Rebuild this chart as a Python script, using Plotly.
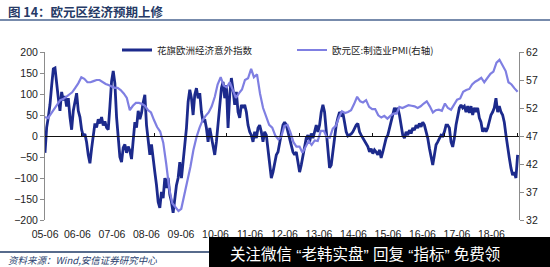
import plotly.graph_objects as go
import pandas as pd

TITLE = "图 14：欧元区经济预期上修"
SOURCE = "资料来源：Wind,安信证券研究中心"
WATERMARK = "关注微信 “老韩实盘” 回复 “指标” 免费领"
CITI_NAME = "花旗欧洲经济意外指数"
PMI_NAME = "欧元区:制造业PMI(右轴)"

X_TICK_LABELS = ["05-06", "06-06", "07-06", "08-06", "09-06", "10-06", "11-06",
                 "12-06", "13-06", "14-06", "15-06", "16-06", "17-06", "18-06"]
LEFT_TICKS = [-200, -150, -100, -50, 0, 50, 100, 150, 200]
RIGHT_TICKS = [32, 37, 42, 47, 52, 57, 62]
ZERO_TICK_DATES = ["2006-06-01", "2008-06-01", "2010-06-01", "2012-06-01",
                   "2014-06-01", "2016-06-01", "2018-06-01"]

# Citi Economic Surprise Index, Eurozone (read roughly every half month, 2005-06 .. 2018-06)
CITI = [
    -40, 20, 45, 75, 120, 160, 162, 120, 90, 60,
    105, 85, 95, 70, 90, 45, 15, 60, 80, 102,
    60, 45, 15, 0, 5, -15, -45, -65, -30, 0,
    30, 20, 40, 30, 45, 25, 35, 20, 15, 70,
    130, 155, 125, 45, -10, -50, -62, -28, -20, -40,
    -25, -35, -55, 0,
    33, 20, 60, 40, 55, 80, 98, 26, -14, -45,
    -20, -62, -86, -117, -157, -171, -133, -148, -100, -124,
    -100, -140, -157, -183, -150, -117, -100, -62, -100, -52,
    -21, 19, 81, 110, 90, 50, 98, 114, 90, 102,
    57, 33, 40, 19, -14, 19, -5, -29, -45, -14,
    26, 57, 114, 129, 90, 121, 19, 98, 138, 110,
    74, 105, 57, 43, 74, 67, 74, 57, 26, 10,
    2, -14, 10, -5, 19, 26, 10, -14, 10, 2,
    -29, -69, -100, -86, -69, -45, -38, -14, 10, 26,
    33, 26, 10, -5, -21, -38, -45, -38, -62, -86,
    -69, -45, -21, -5, 2, -14, 6, -5, 10, 26,
    10, 26, 57, 74, 57, 10, -38, -76, -69, -38,
    -5, 26, 43, 57, 50, 55, 33, 10, 0, 2,
    5, 10, 19, 26, 30, 10, 2, -5, -14, -21,
    -25, -38, -30, -42, -33, -38, -45, -33, -52, -38,
    -17, -5, 2, 19, 33, 50, 67, 57, 67, 50,
    26, 2, -5, 10, 2, 14, 6, 19, 14, 26,
    19, 30, 22, 33, 26, 10, -5, -29, -52, -69,
    -45, -21, -14, -5, 2, 0, 10, 26, 26, 19,
    -14, -26, -5, 26, 43, 67, 74, 67, 71, 57,
    71, 55, 71, 50, 67, 57, 67, 43, 33, 10,
    19, 10, 19, 33, 50, 57, 67, 90, 57, 71,
    57, 50, 33, 2, -29, -52, -76, -93, -86, -100,
    -45,
]

# Eurozone manufacturing PMI, monthly 2005-06 .. 2018-06
PMI = [
    50.4, 50.2, 51.0, 51.8, 52.6, 53.4, 53.6,
    54.0, 54.5, 54.8, 55.6, 56.4, 57.5, 57.2, 56.6, 56.6, 56.8, 57.0, 57.0,
    56.6, 56.3, 56.1, 55.8, 55.6, 55.6, 55.2, 54.6, 53.8, 51.6, 52.4, 52.9,
    52.9, 52.7, 52.4, 51.6, 51.2, 49.8, 48.6, 47.8, 45.8, 42.0, 37.5, 35.0,
    34.2, 33.6, 34.0, 36.6, 38.5, 41.5, 44.5, 46.8, 48.5, 49.8, 50.6, 51.2,
    52.3, 54.0, 56.2, 57.5, 56.0, 55.7, 56.6, 55.1, 53.8, 54.6, 55.3, 57.0,
    57.3, 59.0, 57.5, 58.0, 54.6, 52.0, 50.4, 49.0, 48.5, 47.1, 46.4, 46.9,
    48.8, 49.0, 47.7, 45.9, 45.1, 45.1, 44.0, 45.1, 46.1, 45.4, 46.2, 46.1,
    47.9, 47.9, 46.8, 46.7, 48.3, 48.8, 50.3, 51.4, 51.1, 51.3, 51.6, 52.7,
    54.0, 53.2, 53.0, 53.4, 52.2, 51.8, 51.8, 50.7, 50.3, 50.6, 50.1, 50.6,
    51.0, 51.0, 52.2, 52.0, 52.2, 52.5, 52.4, 52.3, 52.0, 52.3, 52.8, 53.2,
    52.3, 51.2, 51.6, 51.7, 51.5, 52.8, 52.0, 51.7, 52.6, 53.5, 53.7, 54.9,
    55.2, 55.4, 56.2, 56.7, 57.0, 57.4, 56.6, 57.4, 58.1, 58.5, 60.1, 60.6,
    59.6, 58.6, 56.6, 56.2, 55.5, 54.9,
]

START = pd.Timestamp("2005-06-01")
END = pd.Timestamp("2018-06-15")
pmi_dates = pd.date_range(START, periods=len(PMI), freq="MS")
citi_dates = pd.date_range(START, "2018-06-01", periods=len(CITI))

# category-style label spacing as in the original chart
step_days = (END - START).days / 474 * 34.5
x_tick_vals = [(START + pd.Timedelta(days=max(1, step_days * k - 20))).strftime("%Y-%m-%d")
               for k in range(len(X_TICK_LABELS))]

CITI_COLOR = "#1c2a8c"
PMI_COLOR = "#7f7fe2"
AXIS_GRAY = "#8c8c8c"
CJK = "Noto Sans CJK SC"
LATIN = "Liberation Sans, Arial, sans-serif"

fig = go.Figure()
fig.add_trace(go.Scatter(x=citi_dates, y=CITI, name=CITI_NAME, mode="lines",
                         line=dict(color=CITI_COLOR, width=2.8), yaxis="y"))
fig.add_trace(go.Scatter(x=pmi_dates, y=PMI, name=PMI_NAME, mode="lines",
                         line=dict(color=PMI_COLOR, width=2.2), yaxis="y2"))
fig.add_trace(go.Scatter(x=[START], y=[None], xaxis="x2", yaxis="y", showlegend=False,
                         hoverinfo="skip", mode="lines"))

W, H = 550, 267
L, R, T, B = 45, 31, 52, 47
pw, ph = W - L - R, H - T - B


def px(xp):
    return (xp - L) / pw


def py(yp):
    return (H - B - yp) / ph


fig.update_layout(
    width=W, height=H,
    margin=dict(l=L, r=R, t=T, b=B),
    paper_bgcolor="white", plot_bgcolor="white",
    showlegend=True,
    legend=dict(orientation="h", x=px(117), xanchor="left", y=py(50), yanchor="middle",
                bgcolor="rgba(0,0,0,0)", font=dict(family=CJK, size=9.5, color="#222"),
                entrywidth=130, entrywidthmode="pixels", itemwidth=30,
                tracegroupgap=0),
    xaxis=dict(type="date", range=[START.strftime("%Y-%m-%d"), END.strftime("%Y-%m-%d")],
               tickmode="array", tickvals=x_tick_vals, ticktext=X_TICK_LABELS,
               showgrid=False, zeroline=False, showline=False,
               ticks="outside", ticklen=4, tickcolor="rgba(0,0,0,0)",
               tickfont=dict(family=LATIN, size=10.5, color="#222")),
    xaxis2=dict(type="date", matches="x", overlaying="x", anchor="free", position=0.5,
                side="bottom", showline=True, linecolor="#111", linewidth=1,
                ticks="inside", ticklen=3, tickcolor="#111", tickvals=ZERO_TICK_DATES,
                showticklabels=False, showgrid=False, zeroline=False),
    yaxis=dict(range=[-200, 200], tickvals=LEFT_TICKS, showgrid=False, zeroline=False,
               showline=True, linecolor=AXIS_GRAY, linewidth=1,
               ticks="outside", ticklen=4, tickcolor=AXIS_GRAY,
               tickfont=dict(family=LATIN, size=10.5, color="#222")),
    yaxis2=dict(range=[32, 62], tickvals=RIGHT_TICKS, overlaying="y", side="right",
                showgrid=False, zeroline=False, showline=True, linecolor=AXIS_GRAY,
                linewidth=1, ticks="outside", ticklen=4, tickcolor=AXIS_GRAY,
                tickfont=dict(family=LATIN, size=10.5, color="#222")),
)

shapes = [
    dict(type="line", xref="paper", yref="paper", x0=px(0), x1=px(W), y0=py(20), y1=py(20),
         line=dict(color="#4a6591", width=1.5)),
    dict(type="line", xref="paper", yref="paper", x0=px(0), x1=px(212), y0=py(252), y1=py(252),
         line=dict(color="#1f3a66", width=1.5)),
    dict(type="rect", xref="paper", yref="paper", x0=px(209), x1=px(W), y0=py(237), y1=py(H),
         fillcolor="black", line=dict(width=0)),
]
fig.update_layout(shapes=shapes)

fig.add_annotation(text="<b>" + TITLE + "</b>", xref="paper", yref="paper",
                   x=px(6), y=py(12), xanchor="left", yanchor="middle", showarrow=False,
                   font=dict(family=CJK, size=12.5, color="#263a66"))
fig.add_annotation(text="<i>" + SOURCE + "</i>", xref="paper", yref="paper",
                   x=px(6), y=py(259.5), xanchor="left", yanchor="middle", showarrow=False,
                   font=dict(family=CJK, size=9.5, color="#2b3f6e"))
fig.add_annotation(text=WATERMARK, xref="paper", yref="paper",
                   x=px(365), y=py(254), xanchor="center", yanchor="middle", showarrow=False,
                   font=dict(family="Liberation Sans, " + CJK, size=15.5, color="white"))

fig.write_html("out.html")
